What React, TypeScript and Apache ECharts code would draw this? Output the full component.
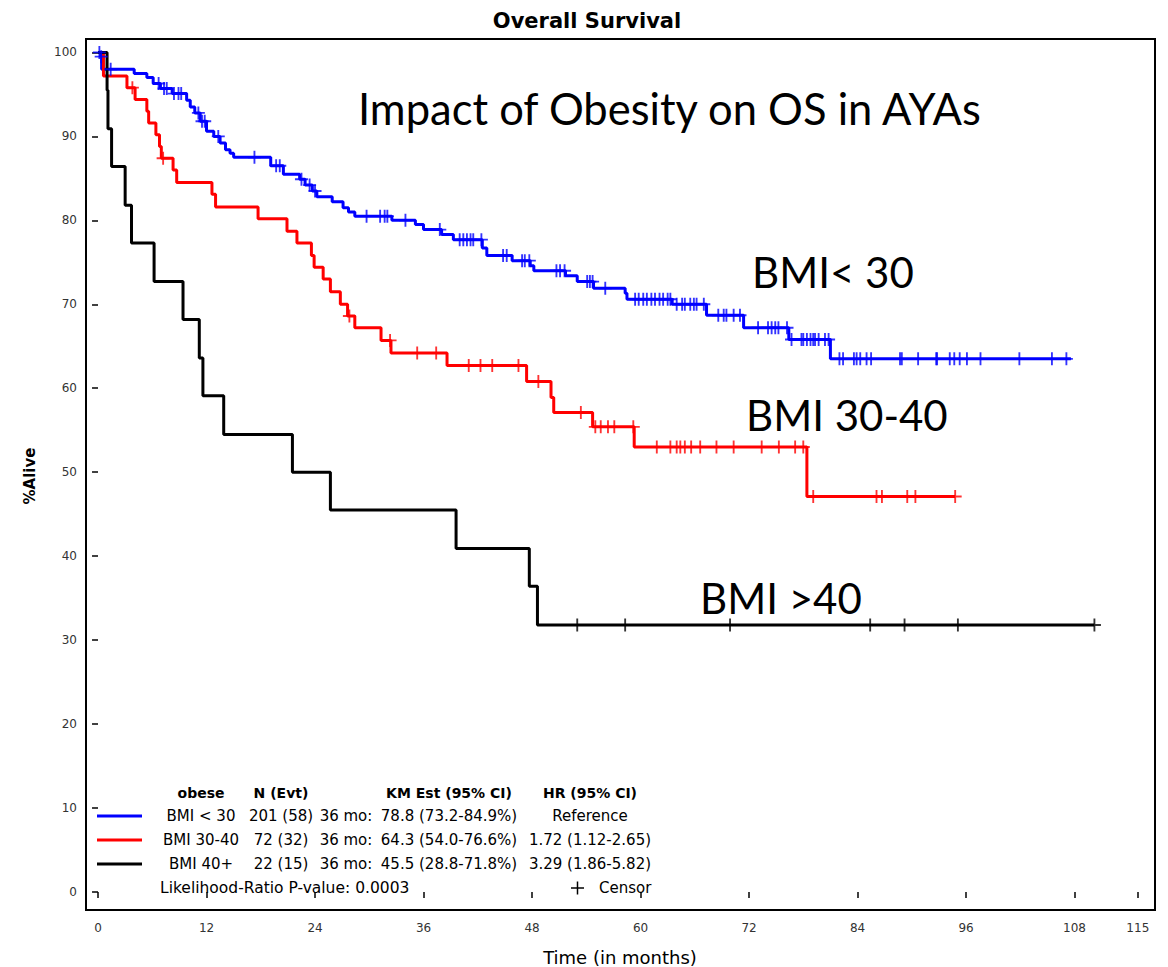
import React, { useEffect, useRef } from "react";
import * as echarts from "echarts";

// Axis ticks
const monthTicks = [0, 12, 24, 36, 48, 60, 72, 84, 96, 108, 115];
const percentTicks = [0, 10, 20, 30, 40, 50, 60, 70, 80, 90, 100];

// Kaplan-Meier steps: [month of drop, % alive after drop]; last point = end of follow-up
const bmiUnder30Steps = [
  [0, 100], [0.3, 99.5], [0.4, 98.0], [4.0, 97.5], [5.4, 97.0], [6.1, 96.3], [6.9, 95.7],
  [8.2, 95.1], [9.8, 94.3], [10.2, 93.5], [10.7, 92.8], [11.3, 91.8], [12.0, 90.6],
  [12.8, 90.0], [13.5, 89.2], [14.1, 88.4], [14.6, 88.0], [15.0, 87.5], [19.1, 86.5],
  [20.5, 85.5], [22.3, 84.9], [22.9, 84.2], [23.7, 83.5], [24.2, 82.8], [25.9, 82.2],
  [27.1, 81.5], [27.7, 81.0], [28.4, 80.5], [32.5, 80.0], [35.1, 79.5], [36.0, 78.9],
  [38.0, 78.3], [39.3, 77.7], [42.5, 76.7], [43.0, 75.8], [45.8, 75.2], [47.8, 74.6],
  [48.2, 74.0], [51.7, 73.4], [53.0, 72.7], [54.8, 71.9], [58.3, 71.3], [58.5, 70.6],
  [63.5, 70.0], [67.3, 68.7], [71.4, 67.2], [76.4, 65.8], [81.0, 63.5], [107.6, 63.5],
];
const bmiUnder30Censored = [
  [0.15, 100], [0.35, 99.5], [1.4, 98.0], [6.7, 96.3], [7.3, 95.7], [7.6, 95.7], [8.4, 95.1],
  [8.9, 95.1], [9.2, 95.1], [11.1, 92.8], [11.5, 91.8], [11.8, 91.8], [13.3, 90.0],
  [17.3, 87.5], [19.7, 86.5], [20.1, 86.5], [22.5, 84.9], [23.4, 84.2], [24.0, 83.5],
  [29.7, 80.5], [31.2, 80.5], [31.7, 80.5], [32.0, 80.5], [34.0, 80.0], [37.8, 78.9],
  [40.0, 77.7], [40.4, 77.7], [40.8, 77.7], [41.2, 77.7], [41.5, 77.7], [42.4, 77.7],
  [44.8, 75.8], [45.2, 75.8], [46.9, 75.2], [47.2, 75.2], [47.7, 75.2], [50.7, 74.0],
  [51.1, 74.0], [51.6, 74.0], [54.1, 72.7], [54.4, 72.7], [54.7, 72.7], [56.1, 71.9],
  [59.4, 70.6], [59.8, 70.6], [60.3, 70.6], [60.7, 70.6], [61.2, 70.6], [61.6, 70.6],
  [62.1, 70.6], [62.5, 70.6], [63.0, 70.6], [63.3, 70.6], [64.0, 70.0], [64.6, 70.0],
  [64.9, 70.0], [65.5, 70.0], [65.9, 70.0], [66.2, 70.0], [67.0, 70.0], [68.6, 68.7],
  [69.2, 68.7], [69.5, 68.7], [70.3, 68.7], [71.0, 68.7], [73.0, 67.2], [74.1, 67.2],
  [74.5, 67.2], [74.9, 67.2], [75.25, 67.2], [76.2, 67.2], [76.7, 65.8], [77.8, 65.8],
  [78.0, 65.8], [78.4, 65.8], [78.8, 65.8], [79.1, 65.8], [79.3, 65.8], [79.7, 65.8],
  [80.4, 65.8], [80.8, 65.8], [82.0, 63.5], [82.4, 63.5], [83.6, 63.5], [83.9, 63.5],
  [84.3, 63.5], [85.0, 63.5], [85.5, 63.5], [88.7, 63.5], [88.9, 63.5], [90.7, 63.5],
  [92.7, 63.5], [92.8, 63.5], [94.2, 63.5], [94.7, 63.5], [95.3, 63.5], [96.1, 63.5],
  [97.6, 63.5], [101.9, 63.5], [105.5, 63.5], [107.1, 63.5],
];

const bmi30to40Steps = [
  [0, 100], [0.6, 97.2], [3.2, 95.8], [4.1, 94.4], [5.4, 93.0], [5.6, 91.6], [6.4, 90.2],
  [6.8, 88.8], [7.0, 87.4], [8.3, 86.0], [8.7, 84.5], [12.6, 83.1], [13.0, 81.6],
  [17.7, 80.2], [20.9, 78.7], [22.0, 77.3], [23.6, 75.8], [23.9, 74.4], [24.9, 73.0],
  [25.7, 71.5], [26.8, 70.0], [27.6, 68.6], [28.4, 67.2], [31.3, 65.7], [32.4, 64.2],
  [38.6, 62.7], [47.4, 60.8], [50.1, 58.9], [50.4, 57.1], [54.7, 55.4], [59.3, 53.0],
  [78.4, 47.1], [94.8, 47.1],
];
const bmi30to40Censored = [
  [3.8, 95.8], [7.2, 87.4], [27.8, 68.6], [32.3, 65.7], [35.3, 64.2], [37.4, 64.2],
  [41.0, 62.7], [42.3, 62.7], [43.6, 62.7], [46.5, 62.7], [48.7, 60.8], [53.4, 57.1],
  [55.0, 55.4], [55.6, 55.4], [56.4, 55.4], [57.1, 55.4], [59.2, 55.4], [61.8, 53.0],
  [63.3, 53.0], [64.0, 53.0], [64.4, 53.0], [64.9, 53.0], [65.6, 53.0], [66.6, 53.0],
  [68.4, 53.0], [70.3, 53.0], [73.4, 53.0], [75.3, 53.0], [77.1, 53.0], [78.0, 53.0],
  [79.1, 47.1], [86.1, 47.1], [86.7, 47.1], [89.5, 47.1], [90.4, 47.1], [94.8, 47.1],
];

const bmiOver40Steps = [
  [0, 100], [1.0, 95.5], [1.1, 90.9], [1.5, 86.4], [3.0, 81.8], [3.7, 77.3], [6.2, 72.7],
  [9.4, 68.2], [11.2, 63.6], [11.6, 59.1], [13.9, 54.5], [21.5, 50.0], [25.7, 45.5],
  [39.6, 40.9], [47.7, 36.4], [48.6, 31.8], [110.2, 31.8],
];
const bmiOver40Censored = [
  [53.0, 31.8], [58.3, 31.8], [69.9, 31.8], [85.4, 31.8], [89.2, 31.8], [95.1, 31.8], [110.2, 31.8],
];

// Summary table
const groupLabels = ["BMI < 30", "BMI 30-40", "BMI 40+"];
const groupColors = ["#0000ff", "#ff0000", "#000000"];
const nEvents = ["201 (58)", "72 (32)", "22 (15)"];
const kmEstimates = ["78.8 (73.2-84.9%)", "64.3 (54.0-76.6%)", "45.5 (28.8-71.8%)"];
const hazardRatios = ["Reference", "1.72 (1.12-2.65)", "3.29 (1.86-5.82)"];
const tableHeaders = ["obese", "N (Evt)", "KM Est (95% CI)", "HR (95% CI)"];

const CROSS = "path://M6,0H8V6H14V8H8V14H6V8H0V6H6Z";
const TXT = "'DejaVu Sans', sans-serif";
const CAL = "Lato, 'Open Sans', sans-serif";

export default function App() {
  const ref = useRef<HTMLDivElement>(null);

  useEffect(() => {
    if (!ref.current) return;
    const chart = echarts.init(ref.current, undefined, { renderer: "svg" });

    const stepSeries = (name: string, data: number[][], color: string) => ({
      name,
      type: "line",
      step: "end",
      data,
      symbol: "none",
      lineStyle: { color, width: 3 },
      z: 3,
    });
    const censorSeries = (name: string, data: number[][], color: string) => ({
      name: name + " censored",
      type: "scatter",
      data,
      symbol: CROSS,
      symbolSize: 13,
      itemStyle: { color },
      z: 4,
    });

    const colCenters = [201, 281, 449, 590];
    const rowY = [816, 840, 864];
    const graphic: any[] = [
      {
        type: "text", x: 587, y: 21,
        style: { text: "Overall Survival", font: `bold 21px ${TXT}`, fill: "#000", align: "center", verticalAlign: "middle" },
      },
      {
        type: "text", x: 30, y: 476, rotation: Math.PI / 2,
        style: { text: "%Alive", font: `bold 15px ${TXT}`, fill: "#000", align: "center", verticalAlign: "middle" },
      },
      {
        type: "text", x: 620, y: 957,
        style: { text: "Time (in months)", font: `18px ${TXT}`, fill: "#000", align: "center", verticalAlign: "middle" },
      },
      {
        type: "text", x: 358, y: 108,
        style: { text: "Impact of Obesity on OS in AYAs", font: `43.5px ${CAL}`, fill: "#000", align: "left", verticalAlign: "middle" },
      },
      {
        type: "text", x: 752, y: 272,
        style: { text: "BMI< 30", font: `42px ${CAL}`, fill: "#000", align: "left", verticalAlign: "middle" },
      },
      {
        type: "text", x: 746, y: 415,
        style: { text: "BMI 30-40", font: `42px ${CAL}`, fill: "#000", align: "left", verticalAlign: "middle" },
      },
      {
        type: "text", x: 700, y: 598,
        style: { text: "BMI >40", font: `42px ${CAL}`, fill: "#000", align: "left", verticalAlign: "middle" },
      },
    ];
    tableHeaders.forEach((h, i) => {
      graphic.push({
        type: "text", x: colCenters[i], y: 793,
        style: { text: h, font: `bold 14px ${TXT}`, fill: "#000", align: "center", verticalAlign: "middle" },
      });
    });
    groupLabels.forEach((g, i) => {
      const y = rowY[i];
      graphic.push({
        type: "line", shape: { x1: 97, y1: y, x2: 142, y2: y },
        style: { stroke: groupColors[i], lineWidth: 3 },
      });
      const cells = [g, nEvents[i], kmEstimates[i], hazardRatios[i]];
      cells.forEach((c, j) => {
        graphic.push({
          type: "text", x: colCenters[j], y,
          style: { text: c, font: `15px ${TXT}`, fill: "#000", align: "center", verticalAlign: "middle" },
        });
      });
      graphic.push({
        type: "text", x: 346, y,
        style: { text: "36 mo:", font: `15px ${TXT}`, fill: "#000", align: "center", verticalAlign: "middle" },
      });
    });
    graphic.push({
      type: "text", x: 160, y: 888,
      style: { text: "Likelihood-Ratio P-value: 0.0003", font: `15.5px ${TXT}`, fill: "#000", align: "left", verticalAlign: "middle" },
    });
    graphic.push({
      type: "line", shape: { x1: 571, y1: 888, x2: 584, y2: 888 }, style: { stroke: "#000", lineWidth: 1.5 },
    });
    graphic.push({
      type: "line", shape: { x1: 577.5, y1: 881.5, x2: 577.5, y2: 894.5 }, style: { stroke: "#000", lineWidth: 1.5 },
    });
    graphic.push({
      type: "text", x: 599, y: 888,
      style: { text: "Censor", font: `15px ${TXT}`, fill: "#000", align: "left", verticalAlign: "middle" },
    });

    chart.setOption({
      animation: false,
      backgroundColor: "#fff",
      grid: {
        left: 86, top: 39, width: 1069, height: 871,
        show: true, borderColor: "#000", borderWidth: 2, backgroundColor: "transparent",
      },
      xAxis: {
        type: "value", min: -1.33, max: 116.9,
        axisLine: { show: false },
        splitLine: { show: false },
        axisTick: { show: true, customValues: monthTicks, length: 6, lineStyle: { color: "#000", width: 1.5 } },
        axisLabel: { customValues: monthTicks, margin: 12, fontSize: 12, color: "#333", fontFamily: TXT },
      },
      yAxis: {
        type: "value", min: -2.15, max: 101.6,
        axisLine: { show: false },
        splitLine: { show: false },
        axisTick: { show: true, customValues: percentTicks, length: 6, lineStyle: { color: "#000", width: 1.5 } },
        axisLabel: { customValues: percentTicks, margin: 9, fontSize: 12, color: "#333", fontFamily: TXT },
      },
      graphic,
      series: [
        stepSeries("BMI < 30", bmiUnder30Steps, groupColors[0]),
        censorSeries("BMI < 30", bmiUnder30Censored, groupColors[0]),
        stepSeries("BMI 30-40", bmi30to40Steps, groupColors[1]),
        censorSeries("BMI 30-40", bmi30to40Censored, groupColors[1]),
        stepSeries("BMI 40+", bmiOver40Steps, groupColors[2]),
        censorSeries("BMI 40+", bmiOver40Censored, groupColors[2]),
      ],
    });

    return () => chart.dispose();
  }, []);

  return (
    <div
      ref={ref}
      style={{ position: "fixed", left: 0, top: 0, width: 1168, height: 967, background: "#fff" }}
    />
  );
}
